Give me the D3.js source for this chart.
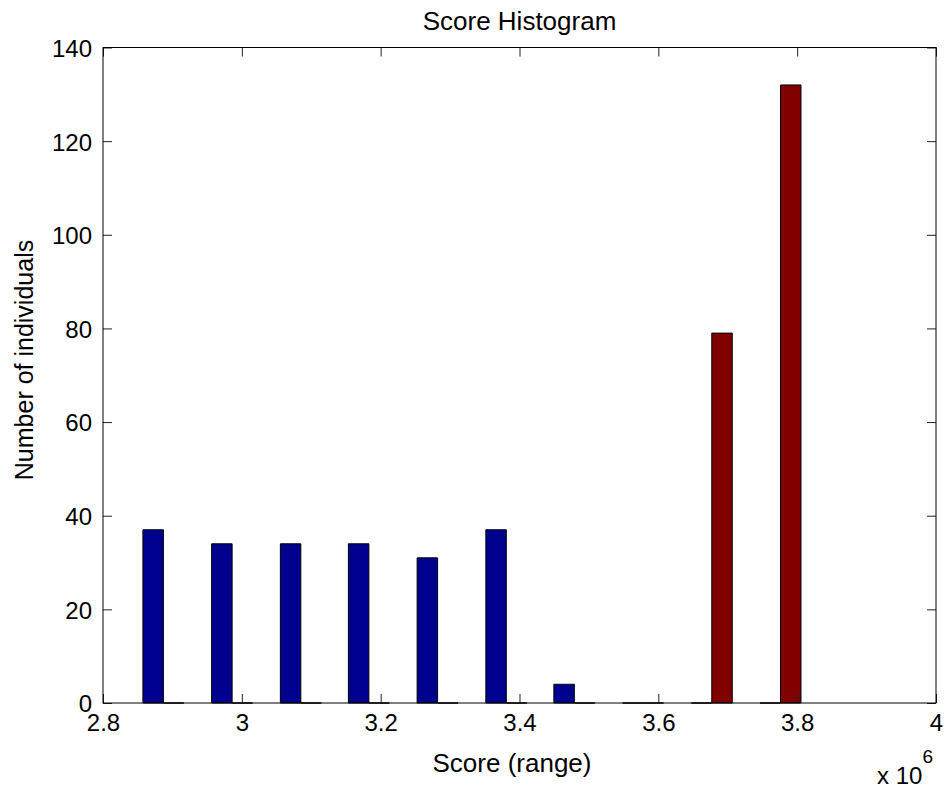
<!DOCTYPE html>
<html>
<head>
<meta charset="utf-8">
<script src="https://cdn.jsdelivr.net/npm/d3@7"></script>
<style>
  body { margin: 0; background: #fff; }
  svg { display: block; font-family: "Liberation Sans", Arial, Helvetica, sans-serif; }
</style>
</head>
<body>
<div id="chart"></div>
<script>
// bin centres of the histogram (x 10^6)
const binCenters = [2.887, 2.986, 3.085, 3.183, 3.282, 3.381, 3.479, 3.578, 3.677, 3.776];
const blueCounts = [37, 34, 34, 34, 31, 37, 4, 0, 0, 0];
const redCounts = [0, 0, 0, 0, 0, 0, 0, 0, 79, 132];
const xTicks = [2.8, 3, 3.2, 3.4, 3.6, 3.8, 4];
const xTickLabels = ['2.8', '3', '3.2', '3.4', '3.6', '3.8', '4'];
const yTicks = [0, 20, 40, 60, 80, 100, 120, 140];

const width = 948;
const height = 804;
const margin = { top: 47.5, right: 12, bottom: 101, left: 103 };
const innerW = width - margin.left - margin.right;
const innerH = height - margin.top - margin.bottom;

const svg = d3.select('#chart')
    .append('svg')
    .attr('width', width)
    .attr('height', height);

const g = svg.append('g')
    .attr('transform', `translate(${margin.left}, ${margin.top})`);

const x = d3.scaleLinear().domain([2.8, 4]).range([0, innerW]);
const y = d3.scaleLinear().domain([0, 140]).range([innerH, 0]);

const barW = 0.0295; // width of one bar in x units

const series = [
    { counts: blueCounts, color: '#00008f', offset: -barW / 2 },
    { counts: redCounts, color: '#800000', offset: barW / 2 }
];

// bars drawn as paths so zero counts still show as a line on the baseline
series.forEach(s => {
    g.selectAll(null)
        .data(binCenters.map((c, i) => ({ c: c, n: s.counts[i] })))
        .enter()
        .append('path')
        .attr('d', d => {
            const x0 = x(d.c + s.offset - barW / 2);
            const x1 = x(d.c + s.offset + barW / 2);
            const y0 = y(0);
            const y1 = y(d.n);
            return `M${x0},${y0}V${y1}H${x1}V${y0}Z`;
        })
        .attr('fill', s.color)
        .attr('stroke', '#000')
        .attr('stroke-width', 1);
});

const tickLen = 9;

// ticks on all four sides, pointing inward
const axes = [
    d3.axisBottom(x).tickValues(xTicks).tickSize(-tickLen).tickPadding(11)
        .tickFormat((d, i) => xTickLabels[i]),
    d3.axisTop(x).tickValues(xTicks).tickSize(-tickLen).tickFormat(''),
    d3.axisLeft(y).tickValues(yTicks).tickSize(-tickLen).tickPadding(11),
    d3.axisRight(y).tickValues(yTicks).tickSize(-tickLen).tickFormat('')
];
const pos = [`translate(0,${innerH})`, 'translate(0,0)', 'translate(0,0)', `translate(${innerW},0)`];

axes.forEach((a, i) => {
    const ax = g.append('g')
        .attr('transform', pos[i])
        .call(a);
    ax.select('.domain').remove();
    ax.selectAll('.tick line').attr('stroke', '#222');
    ax.selectAll('.tick text')
        .attr('font-size', 24)
        .attr('fill', '#000')
        .attr('font-family', '"Liberation Sans", Arial, sans-serif');
    if (i === 2) ax.selectAll('.tick text').attr('dy', '0.37em');
});

g.append('rect')
    .attr('x', 0)
    .attr('y', 0)
    .attr('width', innerW)
    .attr('height', innerH)
    .attr('fill', 'none')
    .attr('stroke', '#000')
    .attr('stroke-width', 1);

svg.append('text')
    .attr('x', margin.left + innerW / 2)
    .attr('y', 29.5)
    .attr('text-anchor', 'middle')
    .attr('font-size', 26)
    .text('Score Histogram');

svg.append('text')
    .attr('x', 512)
    .attr('y', 772)
    .attr('text-anchor', 'middle')
    .attr('font-size', 26)
    .text('Score (range)');

svg.append('text')
    .attr('transform', 'translate(33, 360) rotate(-90)')
    .attr('text-anchor', 'middle')
    .attr('font-size', 25)
    .text('Number of individuals');

const expo = svg.append('text')
    .attr('x', 877)
    .attr('y', 784)
    .attr('font-size', 24);
expo.append('tspan').text('x 10');
expo.append('tspan')
    .attr('dy', -21)
    .attr('font-size', 19)
    .text('6');
</script>
</body>
</html>
